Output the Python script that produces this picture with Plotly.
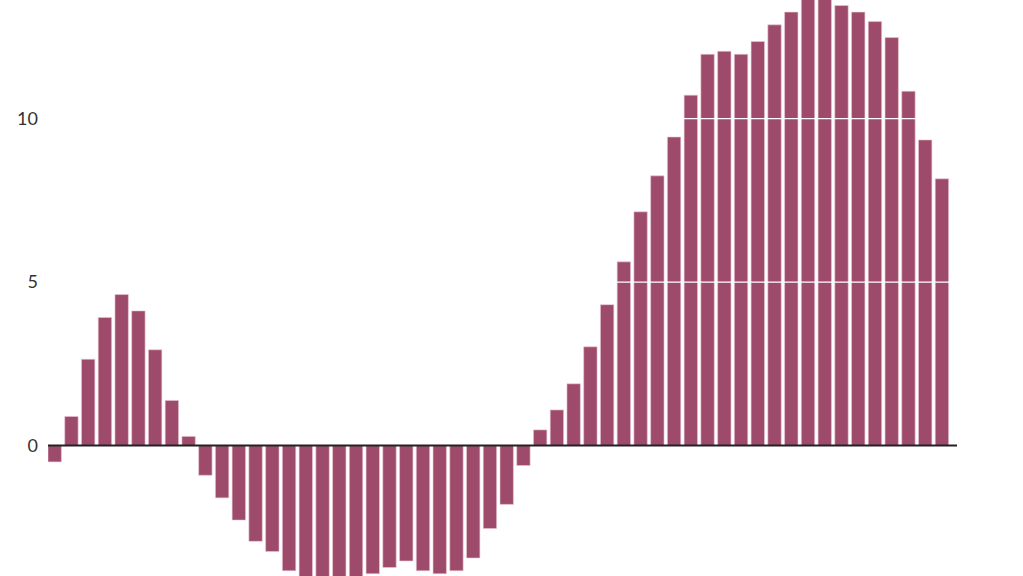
import plotly.graph_objects as go

categories = list(range(1, 55))
values = [
    -0.5, 0.89, 2.64, 3.92, 4.62, 4.12, 2.93, 1.38, 0.28, -0.91,
    -1.60, -2.28, -2.93, -3.24, -3.83, -4.05, -4.1, -4.05, -4.02, -3.92,
    -3.73, -3.53, -3.83, -3.92, -3.83, -3.44, -2.54, -1.80, -0.61, 0.48,
    1.09, 1.89, 3.02, 4.31, 5.62, 7.15, 8.25, 9.44, 10.72, 11.97,
    12.06, 11.97, 12.36, 12.87, 13.26, 13.75, 13.75, 13.46, 13.26, 12.97,
    12.48, 10.84, 9.35, 8.16,
]
tick_vals = [0, 5, 10]
tick_text = ["0", "5", "10"]

bar_color = "#9e4b6b"

fig = go.Figure()
fig.add_trace(go.Bar(
    x=categories, y=values,
    marker=dict(color=bar_color, line=dict(color="#e9c7d3", width=0.6)),
    hoverinfo="x+y",
))

fig.update_layout(
    width=1023, height=576,
    margin=dict(l=48, r=66, t=0, b=0),
    paper_bgcolor="white", plot_bgcolor="white",
    bargap=0.2,
    showlegend=False,
    font=dict(family="Lato, Open Sans, sans-serif", size=18, color="#333333"),
    xaxis=dict(range=[categories[0] - 0.4, categories[-1] + 0.9],
               showgrid=False, zeroline=False, showticklabels=False, ticks=""),
    yaxis=dict(range=[-3.99, 13.63], tickvals=tick_vals, ticktext=tick_text,
               showgrid=False, zeroline=False, ticks="",
               ticklabelstandoff=9),
)

# white gridlines drawn above bars
for v in tick_vals:
    if v == 0:
        continue
    fig.add_shape(type="line", xref="paper", yref="y", x0=0, x1=1, y0=v, y1=v,
                  line=dict(color="white", width=1.2), layer="above")
# zero baseline above bars
fig.add_shape(type="line", xref="paper", yref="y", x0=0, x1=1,
              y0=tick_vals[0], y1=tick_vals[0],
              line=dict(color="#222222", width=2), layer="above")

fig.write_html("out.html",
               config={"displayModeBar": False},
               post_script="document.body.style.margin='0';document.body.style.overflow='hidden';")
